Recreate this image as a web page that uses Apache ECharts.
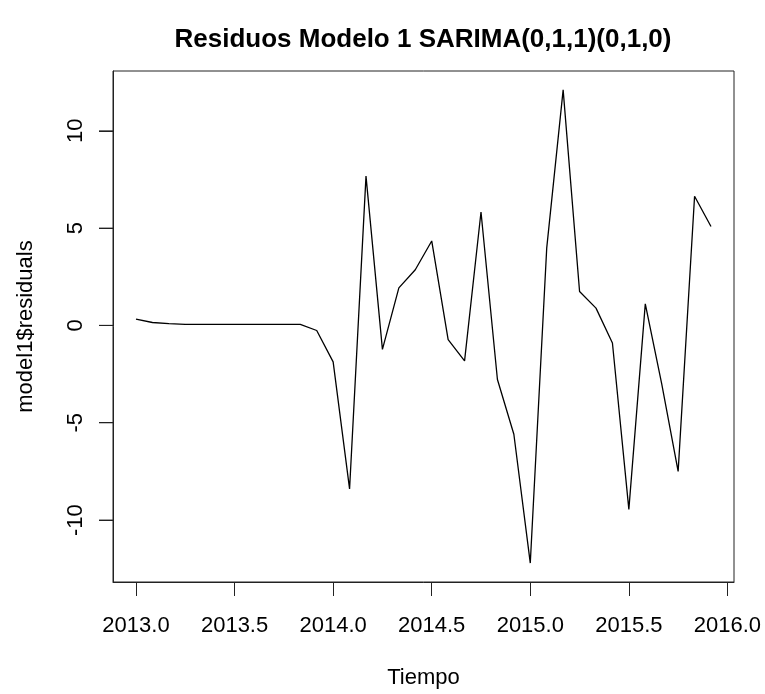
<!DOCTYPE html>
<html>
<head>
<meta charset="utf-8">
<script src="https://cdn.jsdelivr.net/npm/echarts@6/dist/echarts.min.js"></script>
<style>
  html, body { margin: 0; padding: 0; background: #fff; }
  #chart { width: 765px; height: 694px; }
</style>
</head>
<body>
<div id="chart"></div>
<script>
// monthly residuals, ts starting 2013 with frequency 12
const startYear = 2013
const frequency = 12
const residuals = [
  0.32, 0.15, 0.09, 0.05, 0.05, 0.05, 0.05, 0.05, 0.05, 0.05, 0.05, -0.26,
  -1.87, -8.40, 7.67, -1.23, 1.93, 2.86, 4.34, -0.73, -1.82, 5.83, -2.78, -5.59,
  -12.21, 3.97, 12.10, 1.74, 0.89, -0.90, -9.45, 1.11, -3.0, -7.50, 6.64, 5.08
]
const xTicks = [2013.0, 2013.5, 2014.0, 2014.5, 2015.0, 2015.5, 2016.0]
const yTicks = [-10, -5, 0, 5, 10]

const points = residuals.map((v, i) => [startYear + i / frequency, v])

// R style 4% padding around data range
const xs = points.map(p => p[0])
const xPad = (Math.max(...xs) - Math.min(...xs)) * 0.04
const yPad = (Math.max(...residuals) - Math.min(...residuals)) * 0.04
const xMin = Math.min(...xs) - xPad
const xMax = Math.max(...xs) + xPad
const yMin = Math.min(...residuals) - yPad
const yMax = Math.max(...residuals) + yPad

const font = 'Liberation Sans, Arial, Helvetica, sans-serif'
const chart = echarts.init(document.getElementById('chart'))
chart.setOption({
  backgroundColor: '#fff',
  animation: false,
  title: {
    text: 'Residuos Modelo 1 SARIMA(0,1,1)(0,1,0)',
    left: 423,
    top: 27,
    padding: 0,
    textAlign: 'center',
    textStyle: { fontFamily: font, fontSize: 26, fontWeight: 'bold', color: '#000' }
  },
  grid: {
    left: 113, top: 71, width: 621, height: 514,
    show: true, borderColor: '#222', borderWidth: 1, backgroundColor: 'transparent'
  },
  xAxis: {
    type: 'value',
    min: xMin,
    max: xMax,
    name: 'Tiempo',
    nameLocation: 'middle',
    nameGap: 85,
    nameTextStyle: { fontFamily: font, fontSize: 22, color: '#000' },
    axisLine: { show: true, onZero: false, lineStyle: { color: '#222', width: 1 } },
    axisTick: { show: true, customValues: xTicks, length: 14, lineStyle: { color: '#222' } },
    axisLabel: {
      customValues: xTicks, margin: 33,
      formatter: v => v.toFixed(1),
      fontFamily: font, fontSize: 22, color: '#000'
    },
    splitLine: { show: false }
  },
  yAxis: {
    type: 'value',
    min: yMin,
    max: yMax,
    name: 'model1$residuals',
    nameLocation: 'middle',
    nameRotate: 90,
    nameGap: 76,
    nameTextStyle: { fontFamily: font, fontSize: 22, color: '#000' },
    axisLine: { show: true, onZero: false, lineStyle: { color: '#222', width: 1 } },
    axisTick: { show: true, customValues: yTicks, length: 14, lineStyle: { color: '#222' } },
    axisLabel: {
      customValues: yTicks, rotate: 90, margin: 26,
      fontFamily: font, fontSize: 22, color: '#000'
    },
    splitLine: { show: false }
  },
  series: [{
    type: 'line',
    data: points,
    showSymbol: false,
    lineStyle: { color: '#000', width: 1.3 }
  }, {
    // y tick marks as thin rect symbols hanging left of the box
    type: 'scatter',
    clip: false,
    silent: true,
    z: 10,
    data: yTicks.map(v => [xMin, v]),
    symbol: 'rect',
    symbolSize: [14, 1.2],
    symbolOffset: [-7, 0],
    itemStyle: { color: '#222' }
  }]
})
</script>
</body>
</html>
